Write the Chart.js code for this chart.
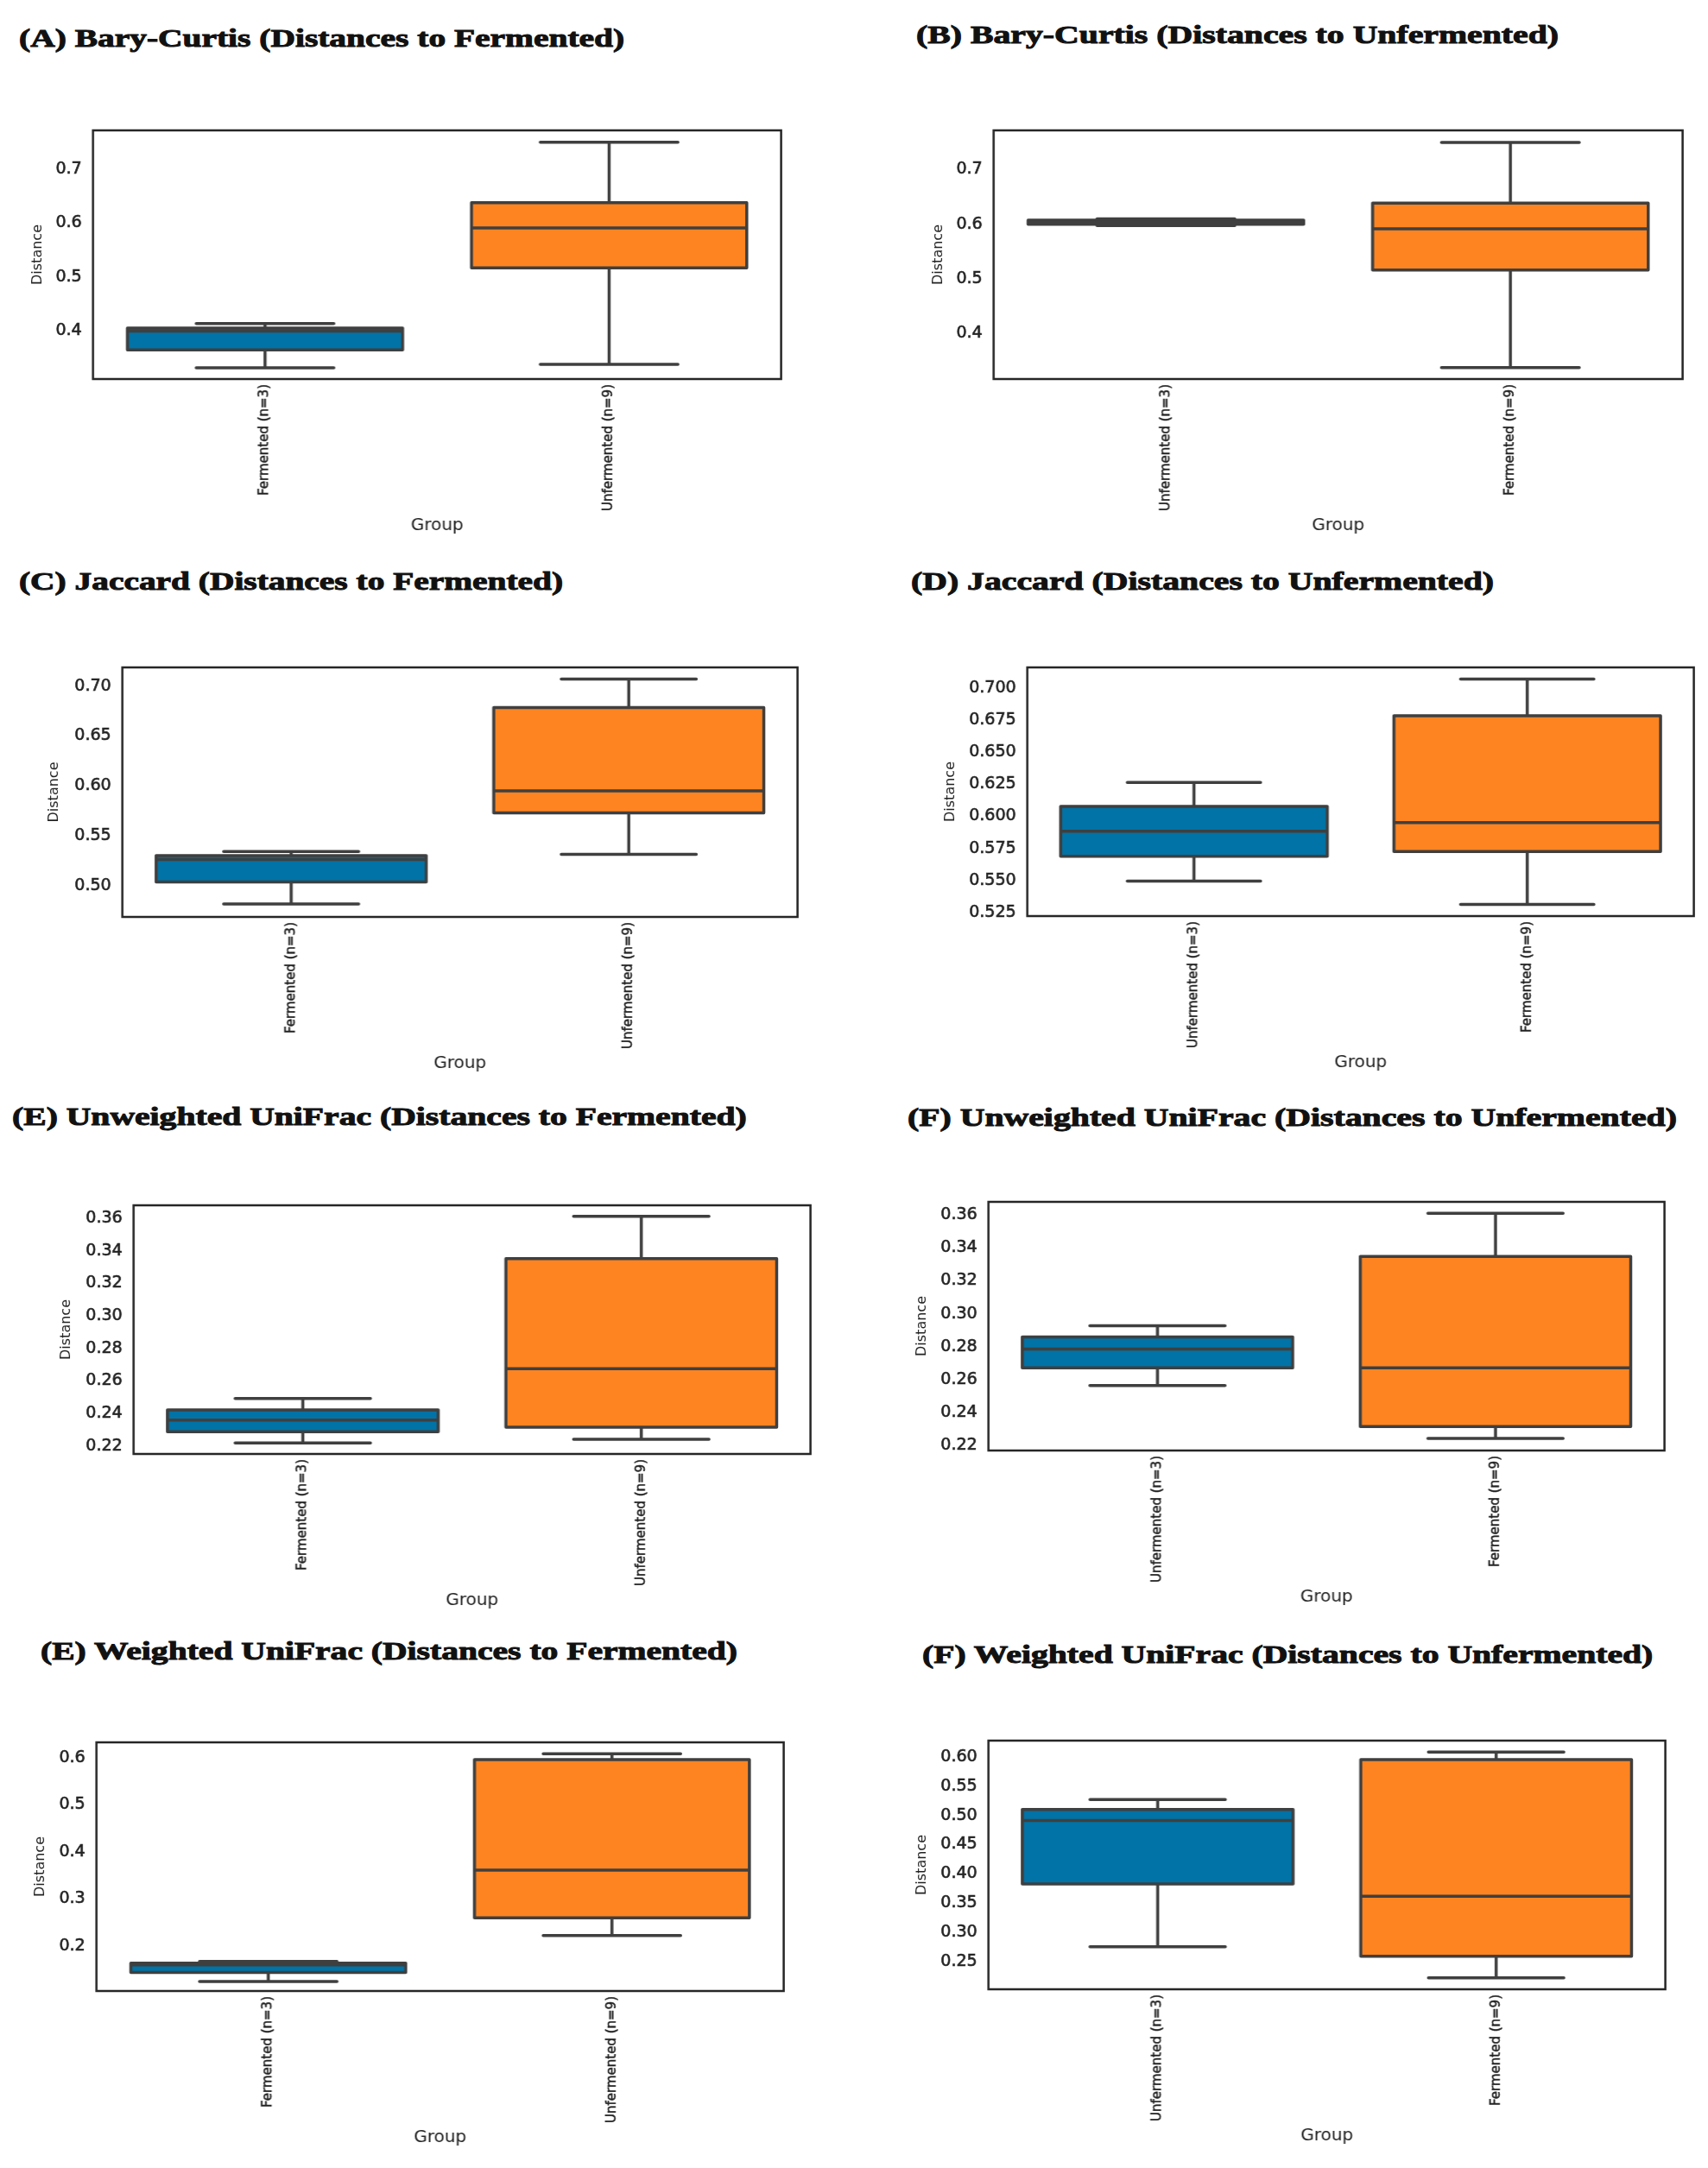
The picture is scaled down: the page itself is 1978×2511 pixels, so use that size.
<!DOCTYPE html>
<html>
<head>
<meta charset="utf-8">
<script src="https://cdn.jsdelivr.net/npm/chart.js@4.4.1/dist/chart.umd.min.js"></script>
<style>
  html, body { margin: 0; padding: 0; background: #fff; }
  #page { position: relative; width: 1978px; height: 2511px; overflow: hidden; }
  .panel { position: absolute; }
  .ptitle {
    position: absolute; white-space: nowrap;
    font: bold 30px "Liberation Serif", "DejaVu Serif", serif;
    line-height: 30px; color: #111;
    -webkit-text-stroke: 1px #111;
    transform-origin: 0 50%;
  }
</style>
</head>
<body>
<div id="page"></div>
<script>
// ---- data ----
const titles = [
  '(A) Bary-Curtis (Distances to Fermented)',
  '(B) Bary-Curtis (Distances to Unfermented)',
  '(C) Jaccard (Distances to Fermented)',
  '(D) Jaccard (Distances to Unfermented)',
  '(E) Unweighted UniFrac (Distances to Fermented)',
  '(F) Unweighted UniFrac (Distances to Unfermented)',
  '(E) Weighted UniFrac (Distances to Fermented)',
  '(F) Weighted UniFrac (Distances to Unfermented)'
];
const toFermented = ['Fermented (n=3)', 'Unfermented (n=9)'];
const toUnfermented = ['Unfermented (n=3)', 'Fermented (n=9)'];
const categories = [toFermented, toUnfermented, toFermented, toUnfermented,
                    toFermented, toUnfermented, toFermented, toUnfermented];

const whiskerLow  = [[0.3315,0.338],[0.5974,0.337],[0.482,0.5316],[0.5495,0.5314],
                     [0.2219,0.2241],[0.2564,0.2242],[0.1243,0.2221],[0.2749,0.2218]];
const q1          = [[0.3648,0.517],[0.5998,0.516],[0.504,0.5731],[0.5689,0.5726],
                     [0.2288,0.2315],[0.2671,0.2315],[0.1436,0.2597],[0.3828,0.2586]];
const medians     = [[0.3995,0.591],[0.6035,0.5916],[0.5265,0.5952],[0.5883,0.595],
                     [0.2359,0.2675],[0.2785,0.2671],[0.1599,0.3612],[0.4914,0.3616]];
const q3          = [[0.405,0.638],[0.6072,0.6388],[0.5303,0.6786],[0.6077,0.6782],
                     [0.2421,0.3351],[0.2859,0.3348],[0.1635,0.5962],[0.5104,0.5957]];
const whiskerHigh = [[0.4137,0.750],[0.6096,0.750],[0.5344,0.7071],[0.6263,0.7069],
                     [0.2492,0.3611],[0.2927,0.361],[0.1672,0.6084],[0.5273,0.6086]];

const yMin      = [0.3106, 0.316, 0.469, 0.5223, 0.2151, 0.2169, 0.1042, 0.2022];
const yMax      = [0.772, 0.772, 0.7187, 0.7159, 0.3679, 0.368, 0.6327, 0.6282];
const yStep     = [0.1, 0.1, 0.05, 0.025, 0.02, 0.02, 0.1, 0.05];
const yDecimals = [1, 1, 2, 3, 2, 2, 1, 2];

// ---- layout (page pixels) ----
// plot frame: left, right, top, bottom
const frames = [[108,904,151,439],[1151,1948,151,439],[142,923,773,1062],[1190,1961,773,1061],
                [155,938,1396,1684],[1145,1927,1392,1680],[112,907,2018,2306],[1145,1928,2016,2304]];
const ylabelGap = [64, 64, 79, 89, 78, 77, 65, 77];   // frame left -> "Distance" centre
const xlabelGap = 170;                                 // frame bottom -> "Group" centre
// title: left, centre y, width
const titleBoxes = [[22,44,701],[1061,40,744],[22,673,630],[1055,673,675],
                    [14,1293,851],[1051,1294,891],[47,1912,808],[1068,1916,847]];

const boxColors = ['#0173a6', '#fd8421'];
const lineColor = '#3f3f3f';
const textColor = '#222222';
const sansFont = 'DejaVu Sans';

const boxPlot = {
  id: 'boxPlot',
  afterDatasetsDraw(chart, args, opts) {
    const ctx = chart.ctx;
    const y = chart.scales.y;
    const meta = chart.getDatasetMeta(0);
    const p = opts.panel;
    ctx.save();
    ctx.strokeStyle = lineColor;
    ctx.lineWidth = 3.5;
    meta.data.forEach((bar, k) => {
      const {x, width} = bar.getProps(['x', 'width'], true);
      const left = x - width / 2, right = x + width / 2;
      const yLo = y.getPixelForValue(whiskerLow[p][k]);
      const yQ1 = y.getPixelForValue(q1[p][k]);
      const yMed = y.getPixelForValue(medians[p][k]);
      const yQ3 = y.getPixelForValue(q3[p][k]);
      const yHi = y.getPixelForValue(whiskerHigh[p][k]);
      // whiskers
      ctx.lineCap = 'butt';
      ctx.beginPath();
      ctx.moveTo(x, yQ3); ctx.lineTo(x, yHi);
      ctx.moveTo(x, yQ1); ctx.lineTo(x, yLo);
      ctx.stroke();
      // caps, half the box width
      ctx.lineCap = 'round';
      ctx.beginPath();
      ctx.moveTo(x - width / 4, yHi); ctx.lineTo(x + width / 4, yHi);
      ctx.moveTo(x - width / 4, yLo); ctx.lineTo(x + width / 4, yLo);
      ctx.stroke();
      // box outline + median
      ctx.lineCap = 'butt';
      ctx.lineJoin = 'round';
      ctx.strokeRect(left, yQ3, width, yQ1 - yQ3);
      ctx.beginPath();
      ctx.moveTo(left, yMed); ctx.lineTo(right, yMed);
      ctx.stroke();
    });
    ctx.restore();
  },
  afterDraw(chart) {
    const ctx = chart.ctx, a = chart.chartArea;
    ctx.save();
    ctx.strokeStyle = '#262626';
    ctx.lineWidth = 2.5;
    ctx.strokeRect(a.left, a.top, a.right - a.left, a.bottom - a.top);
    ctx.restore();
  }
};

const page = document.getElementById('page');
const measure = document.createElement('canvas').getContext('2d');
measure.font = 'bold 30px "Liberation Serif"';

titles.forEach((t, i) => {
  const [tx, ty, tw] = titleBoxes[i];
  const div = document.createElement('div');
  div.className = 'ptitle';
  div.textContent = t;
  div.style.left = tx + 'px';
  div.style.top = (ty - 15) + 'px';
  const sx = tw / measure.measureText(t).width;
  div.style.transform = 'scaleX(' + sx.toFixed(3) + ')';
  page.appendChild(div);
});

const padTop = 4, padRight = 6;
const yTitleFont = 16, xTitleFont = 20;

frames.forEach((f, i) => {
  const [L, R, T, B] = f;
  const yW = ylabelGap[i] + yTitleFont * 1.2 / 2;
  const xH = xlabelGap + xTitleFont * 1.2 / 2;
  const wrap = document.createElement('div');
  wrap.className = 'panel';
  wrap.style.left = (L - yW) + 'px';
  wrap.style.top = (T - padTop) + 'px';
  wrap.style.width = (yW + (R - L) + padRight) + 'px';
  wrap.style.height = (padTop + (B - T) + xH) + 'px';
  const cv = document.createElement('canvas');
  wrap.appendChild(cv);
  page.appendChild(wrap);

  new Chart(cv, {
    type: 'bar',
    data: {
      labels: categories[i],
      datasets: [{
        data: q1[i].map((v, k) => [v, q3[i][k]]),
        backgroundColor: boxColors,
        borderWidth: 0,
        barPercentage: 1,
        categoryPercentage: 0.8
      }]
    },
    options: {
      animation: false,
      responsive: true,
      maintainAspectRatio: false,
      layout: { padding: { top: padTop, right: padRight, left: 0, bottom: 0 } },
      plugins: {
        legend: { display: false },
        tooltip: { enabled: false },
        boxPlot: { panel: i }
      },
      scales: {
        x: {
          grid: { display: false, drawTicks: false },
          border: { display: false },
          ticks: {
            minRotation: 90, maxRotation: 90, autoSkip: false, padding: 6,
            color: textColor, textStrokeColor: textColor, textStrokeWidth: 0.5,
            font: { family: sansFont, size: 15 }
          },
          title: {
            display: true, text: 'Group', color: textColor, padding: 0,
            font: { family: sansFont, size: xTitleFont }
          },
          afterFit(s) {
            s.height = xH;
            s.paddingLeft = s.paddingRight = s.paddingTop = s.paddingBottom = 0;
          }
        },
        y: {
          min: yMin[i], max: yMax[i],
          grid: { display: false, drawTicks: false },
          border: { display: false },
          ticks: {
            stepSize: yStep[i], includeBounds: false, padding: 13,
            color: textColor, textStrokeColor: textColor, textStrokeWidth: 0.6,
            font: { family: sansFont, size: 19 },
            callback: v => Number(v).toFixed(yDecimals[i])
          },
          title: {
            display: true, text: 'Distance', color: textColor, padding: 0,
            font: { family: sansFont, size: yTitleFont }
          },
          afterFit(s) {
            s.width = yW;
            s.paddingLeft = s.paddingRight = s.paddingTop = s.paddingBottom = 0;
          }
        }
      }
    },
    plugins: [boxPlot]
  });
});
</script>
</body>
</html>
